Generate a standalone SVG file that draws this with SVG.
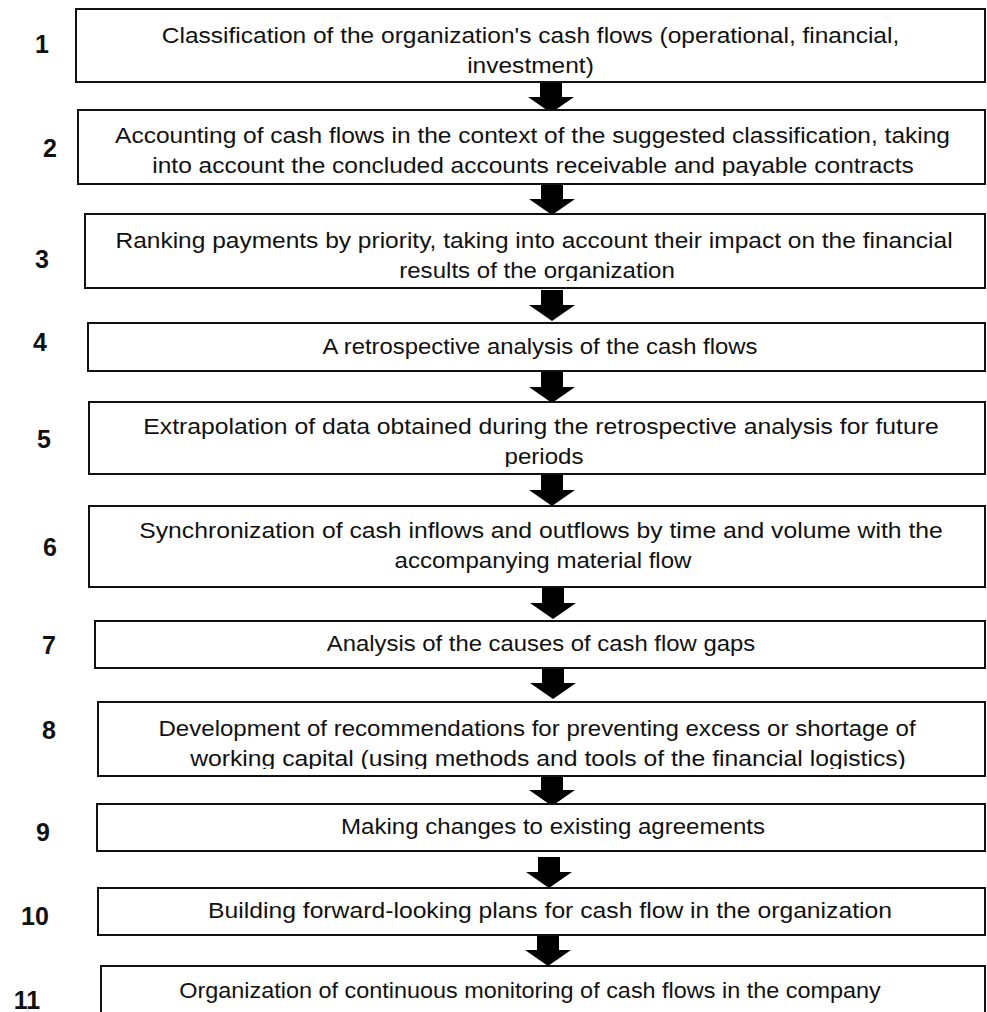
<svg xmlns="http://www.w3.org/2000/svg" width="987" height="1012" viewBox="0 0 987 1012">
<defs>
<style>
.box{fill:#fff;stroke:#111;stroke-width:2}
.t{font-family:"Liberation Sans",Arial,sans-serif;font-size:21.5px;fill:#111;text-anchor:middle}
.n{font-family:"Liberation Sans",Arial,sans-serif;font-size:25px;font-weight:bold;fill:#111;text-anchor:middle}
.arr{fill:#000}
</style>
<path id="ar" d="M-11,0 H11 V15 H23 L0,31 L-23,15 H-11 Z"/>
<clipPath id="c2"><rect x="0" y="100" width="987" height="76"/></clipPath>
<clipPath id="c3"><rect x="0" y="200" width="987" height="81"/></clipPath>
<clipPath id="c5"><rect x="0" y="390" width="987" height="77"/></clipPath>
<clipPath id="c8"><rect x="0" y="690" width="987" height="79"/></clipPath>
</defs>
<rect width="987" height="1012" fill="#fff"/>
<g id="connectors" class="arr">
<use href="#ar" x="551" y="82"/>
<use href="#ar" x="552" y="184"/>
<use href="#ar" x="552" y="290"/>
<use href="#ar" x="552" y="372"/>
<use href="#ar" x="552" y="475"/>
<use href="#ar" x="553" y="588"/>
<use href="#ar" x="553" y="668"/>
<use href="#ar" x="552" y="775"/>
<use href="#ar" x="549" y="857"/>
<use href="#ar" x="548" y="935"/>
</g>
<g id="n1"><rect class="box" x="76" y="9" width="909" height="73"/><text class="t" transform="translate(530.5 43) scale(1.14 1)">Classification of the organization's cash flows (operational, financial,</text><text class="t" transform="translate(530.5 73) scale(1.14 1)">investment)</text><text class="n" x="42" y="53">1</text></g>
<g id="n2"><rect class="box" x="78" y="110" width="907" height="74"/><g clip-path="url(#c2)"><text class="t" transform="translate(532.5 143) scale(1.14 1)">Accounting of cash flows in the context of the suggested classification, taking</text><text class="t" transform="translate(533 173) scale(1.14 1)">into account the concluded accounts receivable and payable contracts</text></g><text class="n" x="50" y="157">2</text></g>
<g id="n3"><rect class="box" x="85" y="214" width="900" height="74"/><g clip-path="url(#c3)"><text class="t" transform="translate(534 248) scale(1.14 1)">Ranking payments by priority, taking into account their impact on the financial</text><text class="t" transform="translate(537 278) scale(1.12 1)">results of the organization</text></g><text class="n" x="42" y="268">3</text></g>
<g id="n4"><rect class="box" x="88" y="323" width="897" height="48"/><text class="t" transform="translate(540 354) scale(1.11 1)">A retrospective analysis of the cash flows</text><text class="n" x="40" y="351">4</text></g>
<g id="n5"><rect class="box" x="89" y="402" width="896" height="72"/><g clip-path="url(#c5)"><text class="t" transform="translate(541 434) scale(1.15 1)">Extrapolation of data obtained during the retrospective analysis for future</text><text class="t" transform="translate(544 464) scale(1.12 1)">periods</text></g><text class="n" x="44" y="448">5</text></g>
<g id="n6"><rect class="box" x="89" y="506" width="896" height="81"/><text class="t" transform="translate(541 538) scale(1.15 1)">Synchronization of cash inflows and outflows by time and volume with the</text><text class="t" transform="translate(543 568) scale(1.12 1)">accompanying material flow</text><text class="n" x="50" y="556">6</text></g>
<g id="n7"><rect class="box" x="95" y="621" width="890" height="47"/><text class="t" transform="translate(541 651) scale(1.11 1)">Analysis of the causes of cash flow gaps</text><text class="n" x="49" y="654">7</text></g>
<g id="n8"><rect class="box" x="98" y="702" width="887" height="74"/><g clip-path="url(#c8)"><text class="t" transform="translate(537 736) scale(1.12 1)">Development of recommendations for preventing excess or shortage of</text><text class="t" transform="translate(548 766) scale(1.15 1)">working capital (using methods and tools of the financial logistics)</text></g><text class="n" x="49" y="739">8</text></g>
<g id="n9"><rect class="box" x="97" y="804" width="888" height="47"/><text class="t" transform="translate(553 834) scale(1.12 1)">Making changes to existing agreements</text><text class="n" x="43" y="841">9</text></g>
<g id="n10"><rect class="box" x="98" y="888" width="887" height="47"/><text class="t" transform="translate(550 918) scale(1.15 1)">Building forward-looking plans for cash flow in the organization</text><text class="n" x="35" y="925">10</text></g>
<g id="n11"><rect class="box" x="101" y="966" width="884" height="60"/><text class="t" transform="translate(530 998) scale(1.09 1)">Organization of continuous monitoring of cash flows in the company</text><text class="n" x="27" y="1009">11</text></g>
</svg>
